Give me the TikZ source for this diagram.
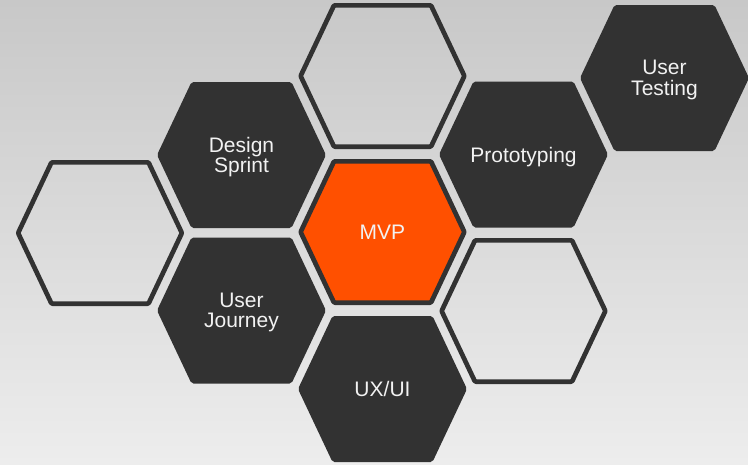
\documentclass[tikz,border=0pt]{standalone}
\usepackage{fontspec}
\setmainfont{Liberation Sans}
\definecolor{hexdark}{RGB}{50,50,50}
\definecolor{mvporange}{RGB}{255,80,0}
\definecolor{bgtop}{RGB}{200,200,200}
\definecolor{bgbottom}{RGB}{237,237,237}
\definecolor{hextext}{RGB}{242,242,242}

% filled hexagon and outlined hexagon, centred at (#1,#2)
\newcommand{\hexsolid}[2]{%
  \fill[hexdark,rounded corners=2pt,shift={(#1,#2)}] (-84.5,0)--(-50,-73)--(50,-73)--(84.5,0)--(50,73)--(-50,73)--cycle;}
\newcommand{\hexline}[3]{%
  \filldraw[hexline,fill=#3,shift={(#1,#2)}] (-81.9,0)--(-48.5,-70.65)--(48.5,-70.65)--(81.9,0)--(48.5,70.65)--(-48.5,70.65)--cycle;}

\begin{document}
\begin{tikzpicture}[x=1pt,y=-1pt,
    hexline/.style={draw=hexdark,line width=4.7pt,line join=round,rounded corners=1pt},
    hexlabel/.style={text=hextext,align=center,text depth=0pt,inner sep=0pt,
      font=\fontsize{21}{20.5}\selectfont}]
    \shade[top color=bgtop,bottom color=bgbottom] (0,0) rectangle (748,464);
    \useasboundingbox (0,0) rectangle (748,464);

    % empty cells
    \hexline{100}{233}{none}
    \hexline{382.5}{76}{none}
    \hexline{523.5}{311}{none}

    % dark cells
    \hexsolid{241.5}{155}
    \hexsolid{241.5}{310.5}
    \hexsolid{382.5}{389}
    \hexsolid{523.5}{154.5}
    \hexsolid{664.5}{78}

    % centre cell
    \hexline{382.5}{232}{mvporange}

    \node[hexlabel] (design) at (241.5,155) {Design\\Sprint};
    \node[hexlabel] (journey) at (241.5,310.5) {User\\Journey};
    \node[hexlabel] (uxui) at (382.5,389) {UX/UI};
    \node[hexlabel] (proto) at (523.5,154.5) {Prototyping};
    \node[hexlabel] (testing) at (664.5,78) {User\\Testing};
    \node[hexlabel] (mvp) at (382.5,232) {MVP};
\end{tikzpicture}
\end{document}
